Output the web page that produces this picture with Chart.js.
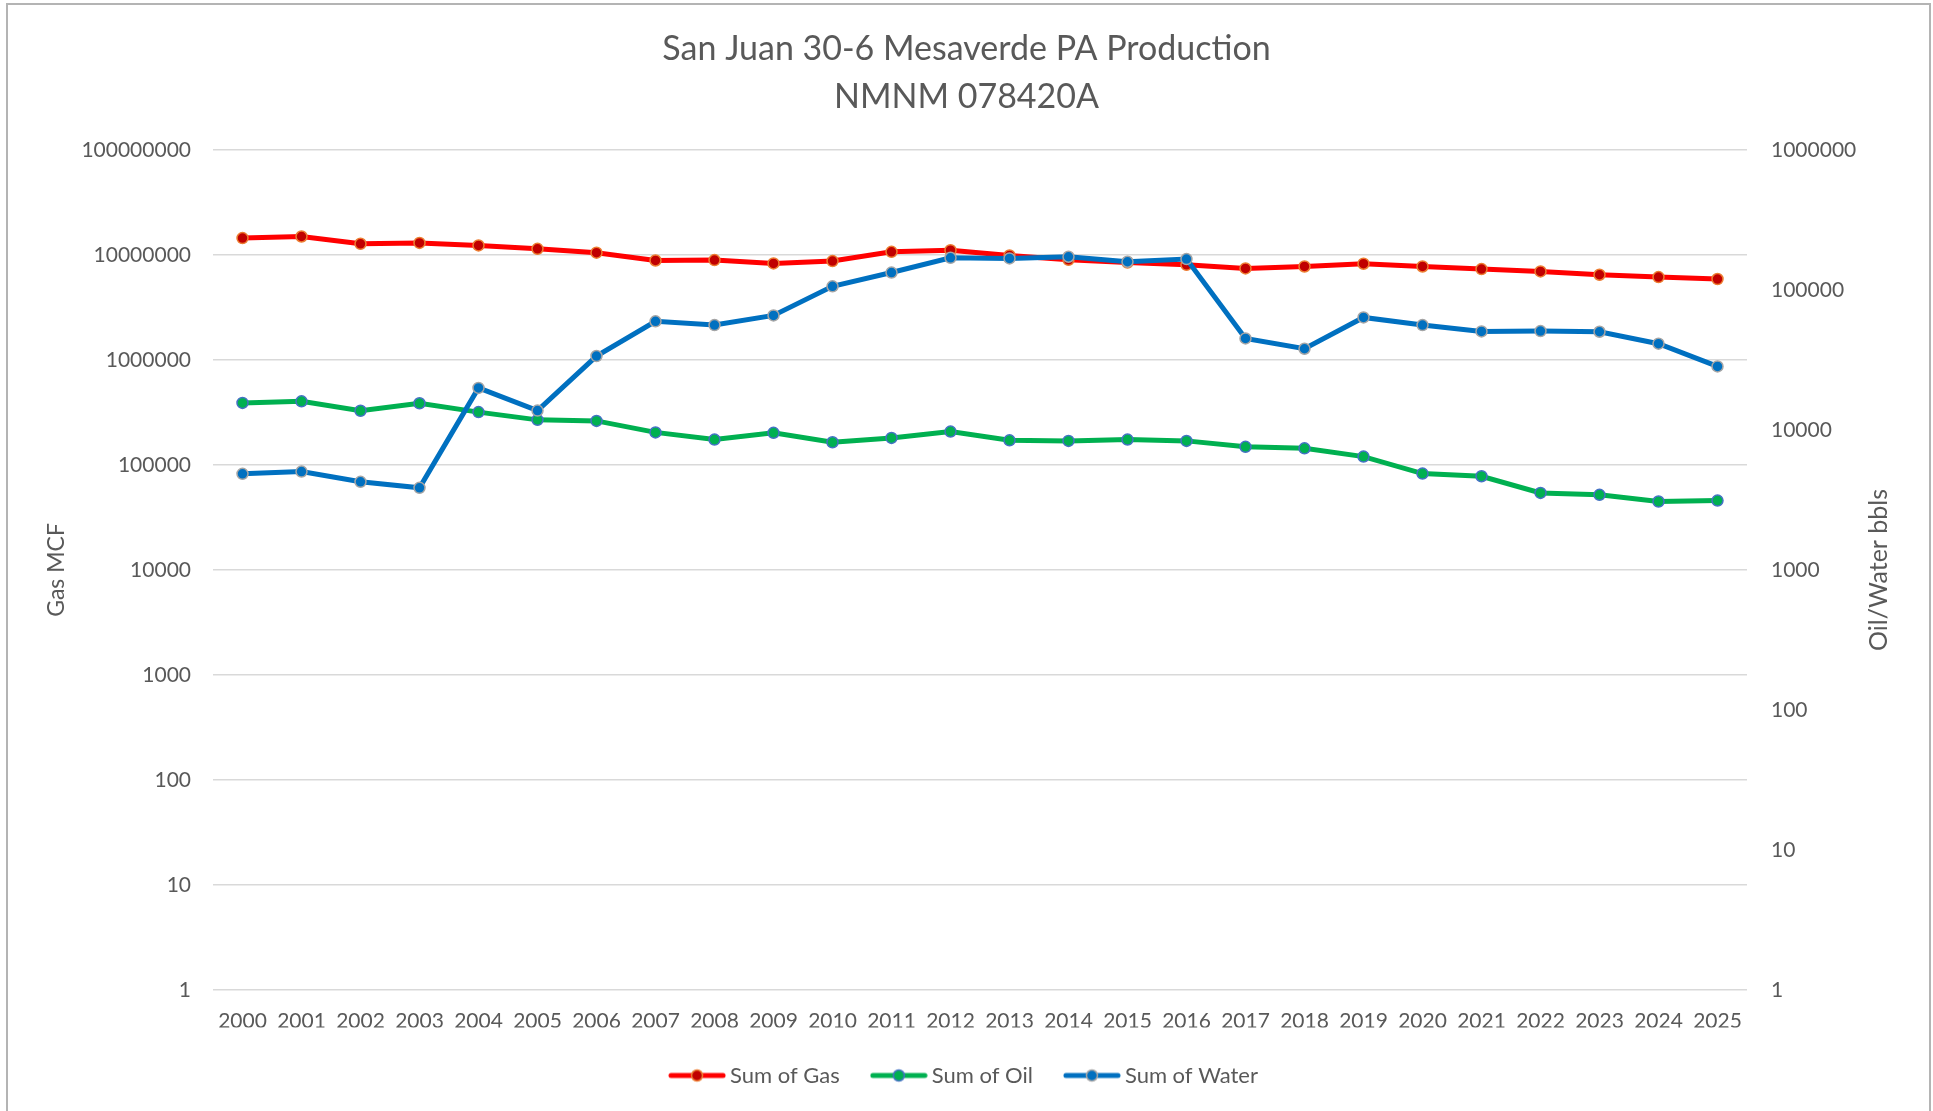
<!DOCTYPE html>
<html>
<head>
<meta charset="utf-8">
<title>San Juan 30-6 Mesaverde PA Production</title>
<script src="https://cdn.jsdelivr.net/npm/chart.js@4.4.1/dist/chart.umd.min.js"></script>
<style>
  html, body { margin: 0; padding: 0; background: #fff; overflow: hidden; }
  #wrap { position: relative; width: 1933px; height: 1111px; }
  #frame { position: absolute; left: 6px; top: 3px; width: 1921px; height: 1200px;
           border: 2px solid #b4b4b4; pointer-events: none; }
</style>
</head>
<body>
<div id="wrap">
  <canvas id="prodChart" width="1933" height="1111"></canvas>
  <div id="frame"></div>
</div>
<script>
// values
const years = ['2000','2001','2002','2003','2004','2005','2006','2007','2008','2009','2010','2011','2012',
               '2013','2014','2015','2016','2017','2018','2019','2020','2021','2022','2023','2024','2025'];
const gasMcf = [14450000, 14970000, 12760000, 13000000, 12300000, 11430000, 10500000, 8850000, 8930000,
                8300000, 8730000, 10700000, 11100000, 9880000, 8970000, 8470000, 8050000, 7430000,
                7760000, 8240000, 7760000, 7330000, 6960000, 6470000, 6150000, 5890000];
const oilBbls = [15600, 16000, 13700, 15500, 13400, 11800, 11600, 9600, 8530, 9530, 8160, 8770, 9730,
                 8430, 8350, 8530, 8350, 7570, 7390, 6450, 4880, 4670, 3550, 3440, 3080, 3130];
const waterBbls = [4860, 5040, 4260, 3860, 19950, 13740, 33700, 59600, 56100, 65700, 106000, 133000, 169600,
                   167800, 172500, 158900, 166000, 45050, 38000, 63600, 56100, 50550, 50800, 50250, 41300, 28430];
const gasTicks = [1, 10, 100, 1000, 10000, 100000, 1000000, 10000000, 100000000];
const bblTicks = [1, 10, 100, 1000, 10000, 100000, 1000000];

const FONT = 'Lato, "Open Sans", "Liberation Sans", sans-serif';
const GREY = '#595959';

function legendIcon(lineColor, fill, edge) {
  const c = document.createElement('canvas');
  c.width = 58; c.height = 16;
  const g = c.getContext('2d');
  g.strokeStyle = lineColor; g.lineWidth = 5; g.lineCap = 'round';
  g.beginPath(); g.moveTo(3, 8); g.lineTo(55, 8); g.stroke();
  g.fillStyle = fill; g.strokeStyle = edge; g.lineWidth = 1.5;
  g.beginPath(); g.arc(29, 8, 5.5, 0, Math.PI * 2); g.fill(); g.stroke();
  return c;
}

// right axis title reads bottom-to-top like the left one
const rightTitle = {
  id: 'rightTitle',
  afterDraw(chart) {
    const area = chart.chartArea;
    const g = chart.ctx;
    g.save();
    g.translate(1879, (area.top + area.bottom) / 2);
    g.rotate(-Math.PI / 2);
    g.font = '25px ' + FONT;
    g.fillStyle = GREY;
    g.textAlign = 'center';
    g.textBaseline = 'middle';
    g.fillText('Oil/Water bbls', 0, 0);
    g.restore();
  }
};

const ctx = document.getElementById('prodChart');
new Chart(ctx, {
  type: 'line',
  data: {
    labels: years,
    datasets: [
      { label: 'Sum of Gas', data: gasMcf, yAxisID: 'yGas', order: 3,
        borderColor: '#FF0000', borderWidth: 5, pointBackgroundColor: '#C00000',
        pointBorderColor: '#ED7D31', pointBorderWidth: 1.5, pointRadius: 5.5,
        icon: legendIcon('#FF0000', '#C00000', '#ED7D31') },
      { label: 'Sum of Oil', data: oilBbls, yAxisID: 'yBbl', order: 2,
        borderColor: '#00B050', borderWidth: 5, pointBackgroundColor: '#00B050',
        pointBorderColor: '#4472C4', pointBorderWidth: 1.5, pointRadius: 5.5,
        icon: legendIcon('#00B050', '#00B050', '#4472C4') },
      { label: 'Sum of Water', data: waterBbls, yAxisID: 'yBbl', order: 1,
        borderColor: '#0070C0', borderWidth: 5, pointBackgroundColor: '#0070C0',
        pointBorderColor: '#A5A5A5', pointBorderWidth: 1.5, pointRadius: 5.5,
        icon: legendIcon('#0070C0', '#0070C0', '#A5A5A5') }
    ]
  },
  plugins: [rightTitle],
  options: {
    responsive: false,
    animation: false,
    devicePixelRatio: 1,
    layout: { padding: { top: 0, bottom: 14.5, left: 0, right: 0 } },
    elements: { line: { tension: 0 } },
    plugins: {
      title: {
        display: true,
        text: ['San Juan 30-6 Mesaverde PA Production', 'NMNM 078420A'],
        color: GREY,
        font: { family: FONT, size: 34, weight: 'normal', lineHeight: 1.41 },
        padding: { top: 25, bottom: 29 }
      },
      legend: {
        position: 'bottom',
        labels: {
          usePointStyle: true,
          pointStyleWidth: 44,
          padding: 37,
          color: GREY,
          font: { family: FONT, size: 22 },
          generateLabels: (chart) => chart.data.datasets.map((ds, i) => ({
            text: ds.label, pointStyle: ds.icon, fillStyle: ds.borderColor,
            strokeStyle: ds.borderColor, lineWidth: 0, datasetIndex: i, hidden: false,
            fontColor: GREY
          }))
        }
      },
      tooltip: { enabled: false }
    },
    scales: {
      x: {
        offset: true,
        grid: { display: false, drawTicks: false },
        border: { display: false },
        ticks: { color: GREY, font: { family: FONT, size: 21 }, padding: 18.4,
                 autoSkip: false, maxRotation: 0, minRotation: 0 },
        afterFit: (axis) => { axis.height = 37.5; }
      },
      yGas: {
        type: 'logarithmic', position: 'left', min: 1, max: 100000000,
        grid: { color: '#D9D9D9', lineWidth: 1.5, drawTicks: false },
        border: { display: false },
        ticks: { color: GREY, font: { family: FONT, size: 21 }, padding: 22,
                 callback: (v) => String(v) },
        afterBuildTicks: (axis) => { axis.ticks = gasTicks.map(v => ({ value: v })); },
        title: { display: true, text: 'Gas MCF', color: GREY,
                 font: { family: FONT, size: 23 }, padding: { top: 43, bottom: 0 } },
        afterFit: (axis) => { axis.width = 213; }
      },
      yBbl: {
        type: 'logarithmic', position: 'right', min: 1, max: 1000000,
        grid: { display: false, drawTicks: false },
        border: { display: false },
        ticks: { color: GREY, font: { family: FONT, size: 21 }, padding: 24,
                 callback: (v) => String(v) },
        afterBuildTicks: (axis) => { axis.ticks = bblTicks.map(v => ({ value: v })); },
        afterFit: (axis) => { axis.width = 186; }
      }
    }
  }
});
</script>
</body>
</html>
